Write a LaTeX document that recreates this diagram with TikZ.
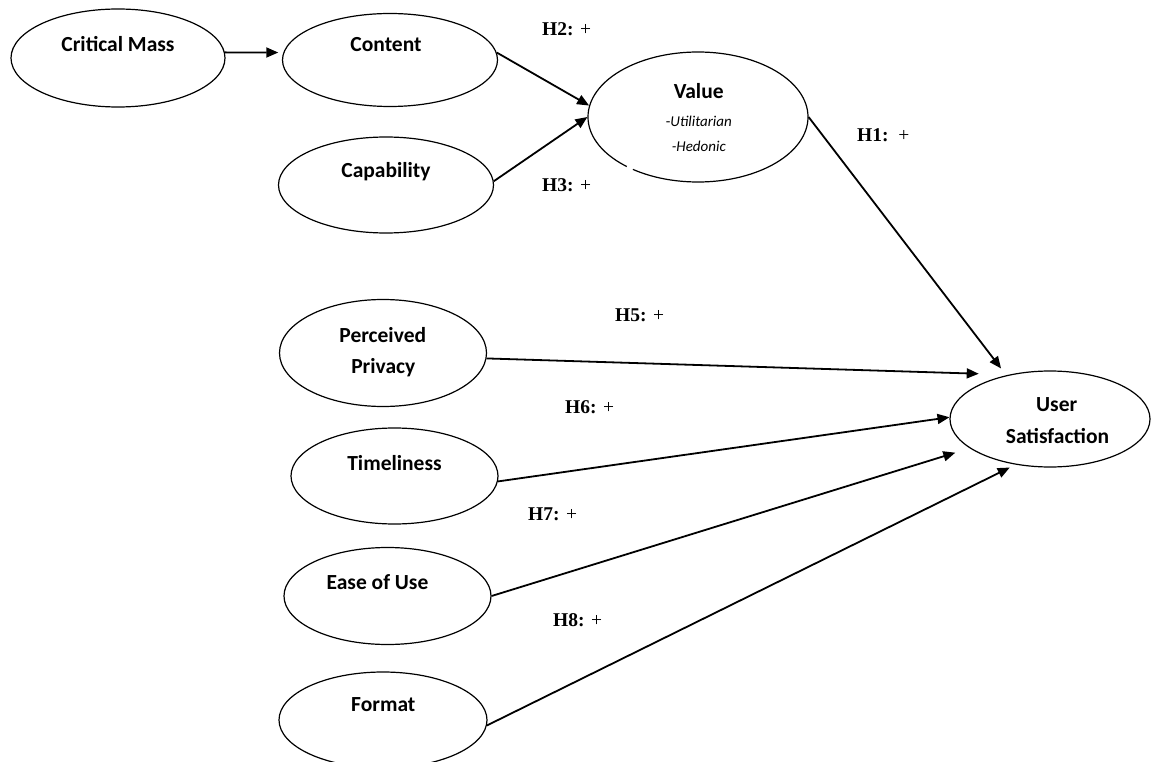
\documentclass[tikz,border=0pt]{standalone}
\usepackage{fontspec}
\setmainfont{Carlito}
\newfontfamily\timesf{Liberation Serif}
\usetikzlibrary{arrows.meta,shapes.geometric}
\begin{document}
\begin{tikzpicture}[x=1pt,y=-1pt,
  oval/.style={ellipse, draw, line width=1.2pt, inner sep=0pt},
  conn/.style={line width=1.8pt, -{Triangle[length=12pt,width=10pt]}},
  ntext/.style={font=\fontsize{21.5}{24}\selectfont\bfseries, anchor=base, inner sep=0pt},
  itext/.style={font=\fontsize{15}{18}\selectfont\itshape, anchor=base, inner sep=0pt},
  hlab/.style={font=\fontsize{19.5}{22}\selectfont\timesf, anchor=base west, inner sep=0pt}]
\useasboundingbox (0,0) rectangle (1154,762);

% ellipses
\node[oval, minimum width=214pt, minimum height=98pt] (cm) at (118,58) {};
\node[oval, minimum width=215pt, minimum height=93pt] (content) at (390,60) {};
\node[oval, minimum width=215pt, minimum height=96pt] (cap) at (386,185) {};
\node[oval, minimum width=220pt, minimum height=130pt] (value) at (698,117) {};
\node[oval, minimum width=207pt, minimum height=107pt] (pp) at (383,353) {};
\node[oval, minimum width=207pt, minimum height=96pt] (time) at (394.5,476) {};
\node[oval, minimum width=207pt, minimum height=97pt] (ease) at (387.5,596) {};
\node[oval, minimum width=208pt, minimum height=96pt] (format) at (383,720) {};
\node[oval, minimum width=200pt, minimum height=96pt] (us) at (1050,419) {};
\fill[white] (value.217) circle (3.5pt);

% texts
\node[ntext] (cm-t) at (118,51.7) {Critical Mass};
\node[ntext] (content-t) at (386,51.7) {Content};
\node[ntext] (cap-t) at (386,178) {Capability};
\node[ntext] (value-t) at (698.7,98.3) {Value};
\node[itext] (value-u) at (698.8,126.7) {{\upshape -}Utilitarian};
\node[itext] (value-h) at (698.8,151.7) {-Hedonic};
\node[ntext] (pp-t1) at (382.8,342.7) {Perceived};
\node[ntext] (pp-t2) at (383.3,373.3) {Privacy};
\node[ntext] (time-t) at (394.5,470) {Timeliness};
\node[ntext] (ease-t) at (377.5,589.3) {Ease of Use};
\node[ntext] (format-t) at (383.3,711.7) {Format};
\node[ntext] (us-t1) at (1056.7,411.7) {User};
\node[ntext] (us-t2) at (1057.5,443.3) {Satisfaction};

% hypothesis labels
\node[hlab] (h2) at (542,36) {\textbf{H2:} +};
\node[hlab] (h3) at (542,191.7) {\textbf{H3:} +};
\node[hlab] (h1) at (857,141.7) {\textbf{H1:}\ \ +};
\node[hlab] (h5) at (615,321.7) {\textbf{H5:} +};
\node[hlab] (h6) at (565,413.3) {\textbf{H6:} +};
\node[hlab] (h7) at (528,520.7) {\textbf{H7:} +};
\node[hlab] (h8) at (553,626.7) {\textbf{H8:} +};

% connectors
\draw[conn, shorten >=5pt] (cm.3) -- (content.176);
\draw[conn] (content.4) -- (value.174);
\draw[conn] (cap.2) -- (value.180);
\draw[conn, shorten >=8.5pt] (value.east) -- (us.135);
\draw[conn, shorten >=30pt] (pp.-3) -- (us.133);
\draw[conn] (time.-3) -- (us.179);
\draw[conn, shorten >=15pt] (ease.east) -- (us.200);
\draw[conn, shorten >=6.5pt] (format.-3) -- (us.233);
\end{tikzpicture}
\end{document}
